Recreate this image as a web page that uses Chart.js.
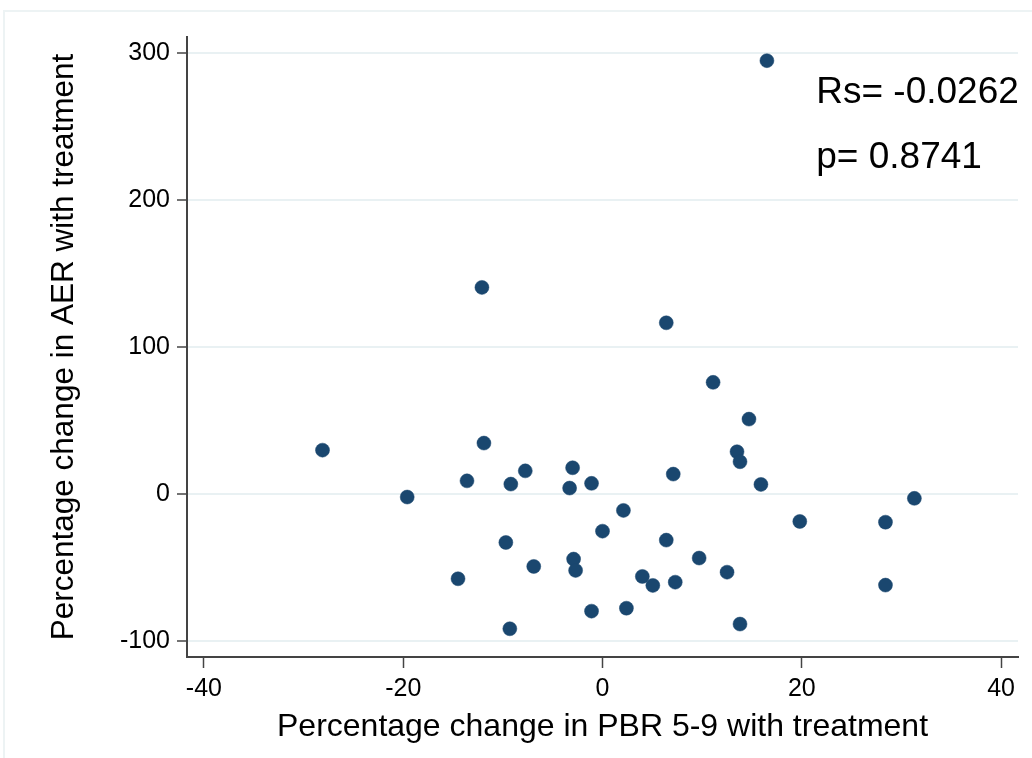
<!DOCTYPE html>
<html>
<head>
<meta charset="utf-8">
<script src="https://cdn.jsdelivr.net/npm/chart.js@4/dist/chart.umd.min.js"></script>
<style>
  html, body { margin: 0; padding: 0; background: #fff; }
  #wrap { position: relative; width: 1032px; height: 758px; overflow: hidden; }
  #frame { position: absolute; left: 3px; top: 10px; width: 1200px; height: 900px;
           border-left: 2px solid #edf3f4; border-top: 2px solid #edf3f4; }
  canvas { position: absolute; left: 0; top: 0; }
</style>
</head>
<body>
<div id="wrap">
  <div id="frame"></div>
  <canvas id="scatterChart" width="1032" height="758"></canvas>
</div>
<script>
// percentage change in PBR 5-9 (x) and in AER (y), one entry per patient
const pbrChange = [
  -28.1, -19.6, -14.5, -13.6, -12.1, -11.9, -9.7, -9.3, -9.2, -7.75,
  -6.9, -3.3, -3.0, -2.9, -2.7, -1.1, -1.1, 0.0, 2.1, 2.4,
  4.0, 5.05, 6.4, 6.4, 7.1, 7.3, 9.7, 11.1, 12.5, 13.5,
  13.8, 13.8, 14.7, 15.9, 16.5, 19.8, 28.4, 28.4, 31.3
];
const aerChange = [
  29.7, -2.2, -57.8, 8.8, 140.4, 34.5, -33.1, -91.8, 6.6, 15.6,
  -49.4, 3.9, 17.7, -44.4, -52.1, 7.1, -79.8, -25.4, -11.3, -77.8,
  -56.2, -62.3, 116.3, -31.5, 13.4, -60.1, -43.7, 75.8, -53.3, 28.6,
  21.8, -88.6, 50.8, 6.4, 294.6, -18.8, -19.3, -62.1, -3.1
];
const xTicks = [-40, -20, 0, 20, 40];
const yTicks = [-100, 0, 100, 200, 300];
const statLines = ['Rs= -0.0262', 'p= 0.8741'];

const points = pbrChange.map((x, i) => ({ x: x, y: aerChange[i] }));

const axisColor = '#444';
const gridColor = '#e9f1f3';
const font = 'Liberation Sans, Arial, sans-serif';

// correlation text in the top right corner
const statsText = {
  id: 'statsText',
  afterDraw(chart) {
    const c = chart.ctx;
    const xs = chart.scales.x, ys = chart.scales.y;
    c.save();
    c.fillStyle = '#000';
    c.font = '37px ' + font;
    c.textAlign = 'left';
    c.textBaseline = 'alphabetic';
    c.fillText(statLines[0], xs.getPixelForValue(21.45), ys.getPixelForValue(265.5));
    c.fillText(statLines[1], xs.getPixelForValue(21.45), ys.getPixelForValue(221.3));
    c.restore();
  }
};

new Chart(document.getElementById('scatterChart').getContext('2d'), {
  type: 'scatter',
  data: {
    datasets: [{
      data: points,
      backgroundColor: '#1a476f',
      borderColor: '#1a476f',
      borderWidth: 0.5,
      pointRadius: 7,
      pointHoverRadius: 7
    }]
  },
  options: {
    responsive: false,
    animation: false,
    layout: { padding: { top: 37, right: 14, left: 0, bottom: 0 } },
    plugins: { legend: { display: false }, tooltip: { enabled: false } },
    scales: {
      x: {
        type: 'linear',
        min: -41.7,
        max: 41.7,
        afterFit: s => { s.height = 101; },
        afterBuildTicks: s => { s.ticks = xTicks.map(v => ({ value: v })); },
        border: { display: true, color: axisColor, width: 2 },
        grid: { drawOnChartArea: false, drawTicks: true, tickLength: 11, color: axisColor, tickWidth: 1.5 },
        ticks: { color: '#000', font: { family: font, size: 25 }, padding: 6, maxRotation: 0 },
        title: {
          display: true,
          text: 'Percentage change in PBR 5-9 with treatment',
          color: '#000',
          font: { family: font, size: 32 },
          padding: { top: 0, bottom: 12 }
        }
      },
      y: {
        type: 'linear',
        min: -111,
        max: 310.7,
        afterFit: s => { s.width = 187; },
        afterBuildTicks: s => { s.ticks = yTicks.map(v => ({ value: v })); },
        border: { display: true, color: axisColor, width: 2 },
        grid: { color: gridColor, lineWidth: 2, drawTicks: true, tickLength: 10, tickColor: axisColor, tickWidth: 1.5 },
        ticks: { color: '#000', font: { family: font, size: 25 }, padding: 7 },
        title: {
          display: true,
          text: 'Percentage change in AER with treatment',
          color: '#000',
          font: { family: font, size: 31.5 },
          padding: { top: 45, bottom: 0 }
        }
      }
    }
  },
  plugins: [statsText]
});
</script>
</body>
</html>
